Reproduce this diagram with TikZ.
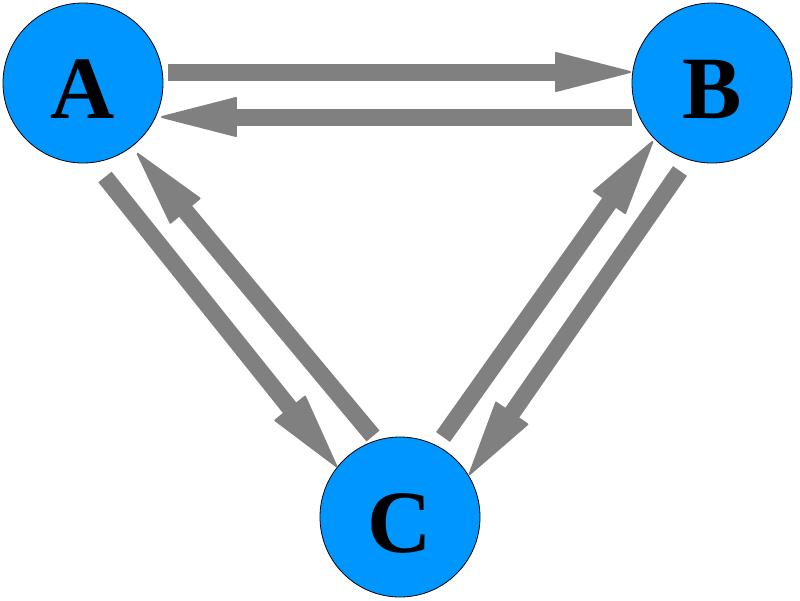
\documentclass[tikz,border=0pt]{standalone}
\usepackage{fontspec}
\setmainfont{Liberation Serif}
\usetikzlibrary{arrows.meta,calc}
\definecolor{nodeblue}{RGB}{0,150,255}
\definecolor{arrgray}{RGB}{128,128,128}
\begin{document}
\begin{tikzpicture}[x=1pt,y=-1pt,
  vertex/.style={circle,draw=black,line width=0.8pt,fill=nodeblue,minimum size=160pt,inner sep=0pt,
    font=\fontsize{89}{90}\selectfont\bfseries,text height=70pt,text depth=0pt},
  arr/.style={draw=arrgray,line width=17pt,
    -{Triangle[length=79pt,width=40pt,line width=2pt,round]}}]
\useasboundingbox (0,0) rectangle (800,600);
\node[vertex] (A) at (83,83) {A};
\node[vertex] (B) at (712,83) {B};
\node[vertex] (C) at (400,517) {C};
\draw[arr] ($(A)+(85,-11)$) -- ($(B)+(-81,-11)$);
\draw[arr] ($(B)+(-80,34)$) -- ($(A)+(78,34)$);
\draw[arr] ($(A)+(22,94)$) -- ($(C)+(-63,-50)$);
\draw[arr] ($(C)+(-27,-81)$) -- ($(A)+(54,70)$);
\draw[arr] ($(B)+(-32,88)$) -- ($(C)+(69,-42)$);
\draw[arr] ($(C)+(43,-80)$) -- ($(B)+(-59,58)$);
\end{tikzpicture}
\end{document}
